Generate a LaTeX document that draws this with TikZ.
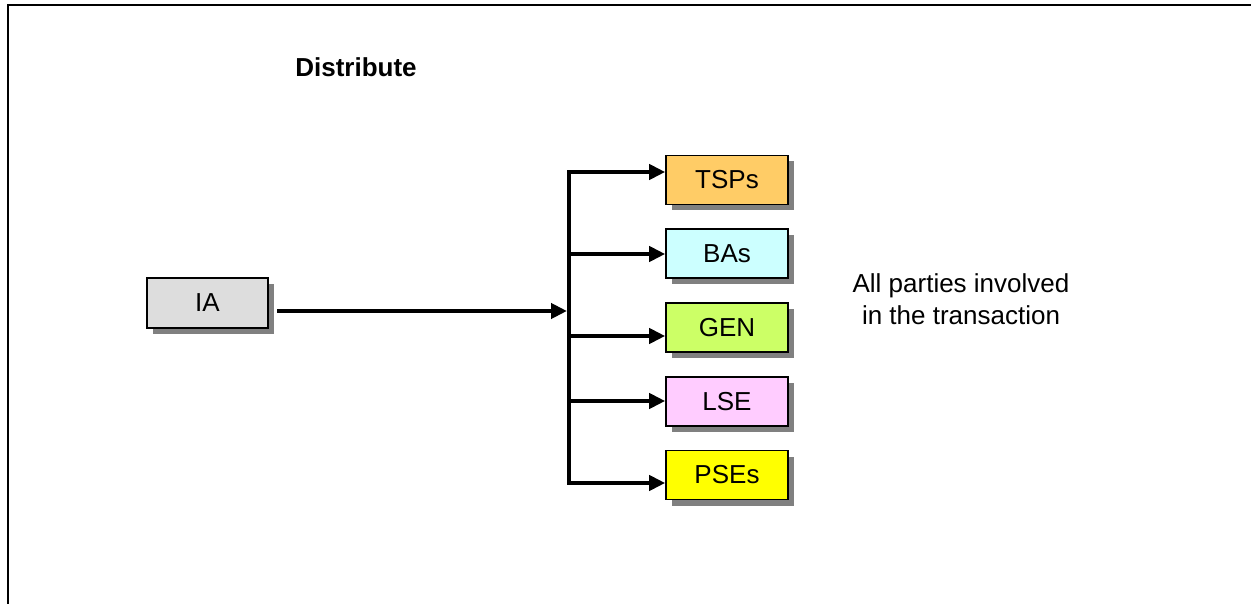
\documentclass[tikz,border=0pt]{standalone}
\usepackage{fontspec}
\setmainfont{Liberation Sans}
\usetikzlibrary{arrows.meta,shadows}

\definecolor{tspfill}{HTML}{FFCC66}
\definecolor{bafill}{HTML}{CCFFFF}
\definecolor{genfill}{HTML}{CCFF66}
\definecolor{lsefill}{HTML}{FFCCFF}
\definecolor{psefill}{HTML}{FFFF00}
\definecolor{iafill}{HTML}{DDDDDD}
\definecolor{shadowgray}{HTML}{808080}

\tikzset{
  party/.style={draw=black, line width=1.6pt, minimum width=122pt, minimum height=49pt,
    inner sep=0pt, font=\fontsize{26}{31}\selectfont,
    drop shadow={shadow xshift=6pt, shadow yshift=-6pt, fill=shadowgray, opacity=1}},
  flow/.style={line width=4pt, -{Triangle[length=16pt,width=15pt]}},
  bus/.style={line width=4pt, line cap=rect},
  frame/.style={line width=2.5pt},
  caption/.style={font=\fontsize{26}{32}\selectfont, align=center, inner sep=0pt}
}

\begin{document}
\begin{tikzpicture}[x=1pt, y=-1pt]
  \useasboundingbox (0,0) rectangle (1251,604);
  % outer frame (runs off the right and bottom edges)
  \draw[frame] (8,606) -- (8,5) -- (1253,5);

  % title
  \node[caption, font=\fontsize{26}{31}\selectfont\bfseries, anchor=base] (title) at (356,77) {Distribute};

  % source
  \node[party, fill=iafill, minimum width=121pt, minimum height=50pt] (ia) at (207.5,303) {IA};

  % recipients
  \node[party, fill=tspfill] (tsp) at (727,180) {TSPs};
  \node[party, fill=bafill]  (ba)  at (727,253.5) {BAs};
  \node[party, fill=genfill] (gen) at (727,327.5) {GEN};
  \node[party, fill=lsefill] (lse) at (727,401.5) {LSE};
  \node[party, fill=psefill] (pse) at (727,475) {PSEs};

  % side note (base anchor sits on the last line)
  \node[caption, anchor=base] (note) at (961,324) {All parties involved\\in the transaction};

  % distribution bus
  \coordinate (iaOut) at (277,311);
  \coordinate (bIA) at (567,311);
  \coordinate (bT) at (569,172);
  \coordinate (bB) at (569,254);
  \coordinate (bG) at (569,336);
  \coordinate (bL) at (569,401);
  \coordinate (bP) at (569,483);

  \draw[bus] (bT) -- (bP);
  \draw[flow] (iaOut) -- (bIA);
  \draw[flow] (bT) -- (bT -| tsp.west);
  \draw[flow] (bB) -- (bB -| ba.west);
  \draw[flow] (bG) -- (bG -| gen.west);
  \draw[flow] (bL) -- (bL -| lse.west);
  \draw[flow] (bP) -- (bP -| pse.west);
\end{tikzpicture}
\end{document}
